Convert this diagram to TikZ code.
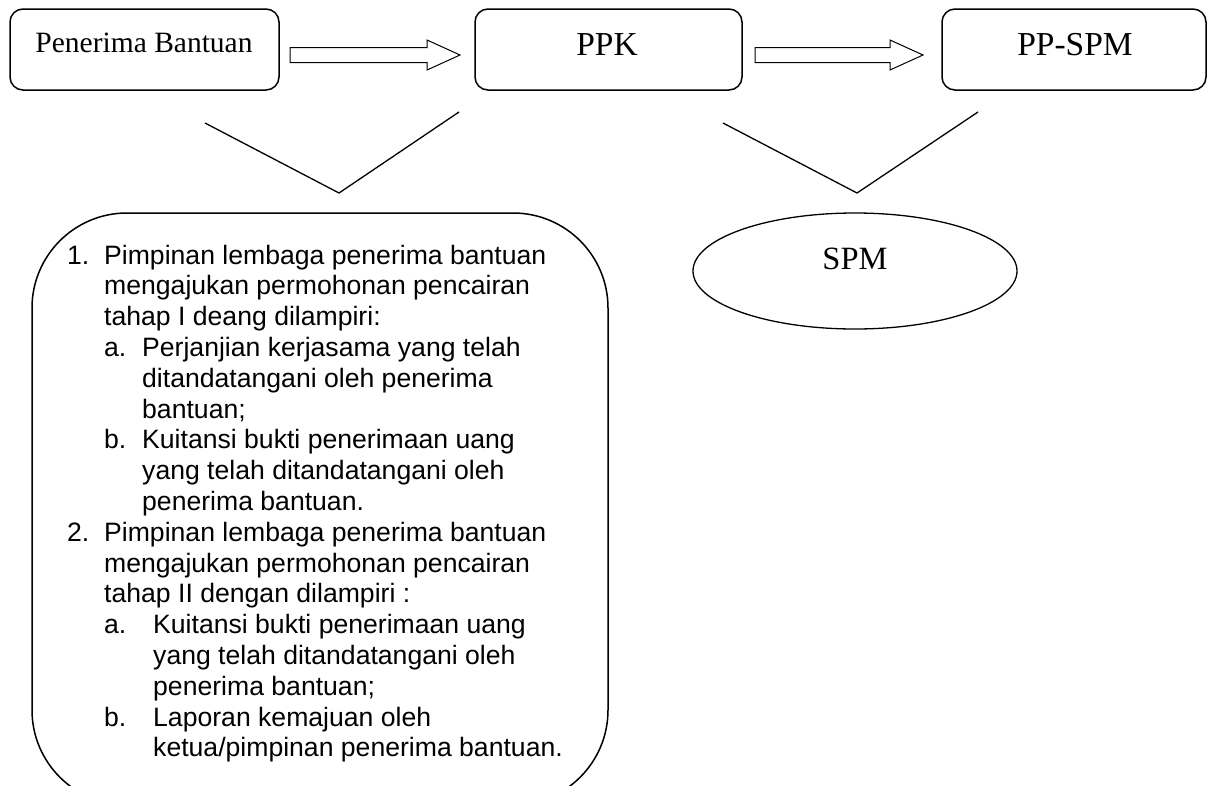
\documentclass[tikz,border=0pt]{standalone}
\usepackage{fontspec}
\newfontfamily\arialf{Liberation Sans}
\newfontfamily\timesf{Liberation Serif}
\usetikzlibrary{shapes.geometric}
\begin{document}
\begin{tikzpicture}[x=1pt,y=-1pt,
  rbox/.style={draw, line width=1.5pt, rounded corners=13pt, inner sep=0pt},
  bigbox/.style={draw, line width=1.5pt, rounded corners=95pt, inner sep=0pt},
  oval/.style={draw, ellipse, line width=1.3pt, inner sep=0pt},
  blockarrow/.style={draw, line width=1pt, line join=miter},
  vline/.style={draw, line width=1.3pt},
  serift/.style={inner sep=0pt, anchor=base, font=\timesf\fontsize{29.5}{34}\selectfont},
  serifbig/.style={inner sep=0pt, anchor=base, font=\timesf\fontsize{33.5}{38}\selectfont},
  listtext/.style={inner sep=0pt, anchor=base west, font=\arialf\fontsize{26.6}{30.8}\selectfont},
]
\clip (0,0) rectangle (1208,785);
% top boxes
\node[rbox, minimum width=269pt, minimum height=81pt] (pb) at (144.5,49.5) {};
\node[rbox, minimum width=267pt, minimum height=81pt] (ppk) at (608.5,49.5) {};
\node[rbox, minimum width=264pt, minimum height=81pt] (ppspm) at (1074,49.5) {};
\node[serift] (pbt) at (144,52) {Penerima Bantuan};
\node[serifbig] (ppkt) at (607,55) {PPK};
\node[serifbig] (ppspmt) at (1075,55) {PP-SPM};
% block arrows
\draw[blockarrow] (290,47.5) -- (427,47.5) -- (427,40) -- (460,55) -- (427,70) -- (427,62.5) -- (290,62.5) -- cycle;
\draw[blockarrow] (755,47.5) -- (890,47.5) -- (890,40) -- (923,55) -- (890,70) -- (890,62.5) -- (755,62.5) -- cycle;
% V lines
\draw[vline] (205,123) -- (339,193) -- (459,112);
\draw[vline] (723,123) -- (857,193) -- (978,112);
% SPM ellipse
\node[oval, minimum width=324pt, minimum height=116pt] (spm) at (855,271) {};
\node[serifbig, font=\timesf\fontsize{32.5}{38}\selectfont] (spmt) at (855,269) {SPM};
% big box
\node[bigbox, minimum width=576pt, minimum height=592pt] (info) at (320,509) {};
\node[listtext] (infot) at (67,264) {\parbox[t]{540pt}{%
\makebox[37pt][l]{1.}Pimpinan lembaga penerima bantuan\\
\hspace*{37pt}mengajukan permohonan pencairan\\
\hspace*{37pt}tahap I deang dilampiri:\\
\hspace*{37pt}\makebox[38pt][l]{a.}Perjanjian kerjasama yang telah\\
\hspace*{75pt}ditandatangani oleh penerima\\
\hspace*{75pt}bantuan;\\
\hspace*{37pt}\makebox[38pt][l]{b.}Kuitansi bukti penerimaan uang\\
\hspace*{75pt}yang telah ditandatangani oleh\\
\hspace*{75pt}penerima bantuan.\\
\makebox[37pt][l]{2.}Pimpinan lembaga penerima bantuan\\
\hspace*{37pt}mengajukan permohonan pencairan\\
\hspace*{37pt}tahap II dengan dilampiri :\\
\hspace*{37pt}\makebox[49pt][l]{a.}Kuitansi bukti penerimaan uang\\
\hspace*{86pt}yang telah ditandatangani oleh\\
\hspace*{86pt}penerima bantuan;\\
\hspace*{37pt}\makebox[49pt][l]{b.}Laporan kemajuan oleh\\
\hspace*{86pt}ketua/pimpinan penerima bantuan.}};
\end{tikzpicture}
\end{document}
